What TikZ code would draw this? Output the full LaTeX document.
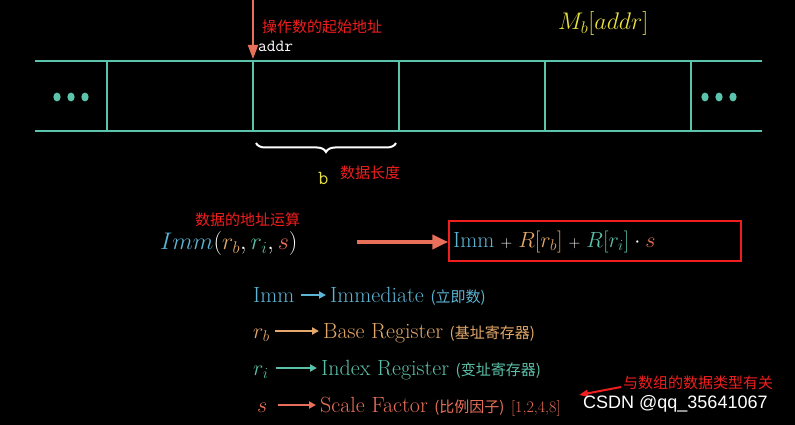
\RequirePackage{fix-cm}
\documentclass[tikz,border=0pt]{standalone}
\usepackage{fontspec}
\usepackage{amsmath}
\newfontfamily\cjk{Noto Sans CJK SC}
\newfontfamily\wm{Liberation Sans}
\usetikzlibrary{decorations.pathreplacing,arrows.meta}
\definecolor{tape}{HTML}{5CC4AC}
\definecolor{cblue}{HTML}{5DB4D4}
\definecolor{corange}{HTML}{E3A86A}
\definecolor{cteal}{HTML}{5CC0A8}
\definecolor{coral}{HTML}{E8705A}
\definecolor{ared}{HTML}{F01E1E}
\definecolor{cyel}{HTML}{E8E040}
\begin{document}
\begin{tikzpicture}[x=1pt,y=-1pt,
  tapeline/.style={tape,line width=2.2pt},
  note/.style={ared,font=\cjk\fontsize{15}{15}\selectfont,inner sep=0pt},
  big/.style={font=\fontsize{24}{24}\selectfont,inner sep=0pt},
  leg/.style={font=\fontsize{22}{22}\selectfont,inner sep=0pt,anchor=base west},
  legarr/.style={-{Triangle[length=7pt,width=7pt]},line width=2pt}]
\fill[black] (0,0) rectangle (795,425);
\useasboundingbox (0,0) rectangle (795,425);
% tape
\draw[tapeline] (35,61) -- (762,61);
\draw[tapeline] (35,131) -- (762,131);
\foreach \x in {107,253,399,545,691} \draw[tapeline] (\x,61) -- (\x,131);
\foreach \x in {57,71,85,705,719,733} \fill[tape] (\x,97) ellipse (3.6 and 4.4);
\coordinate (top) at (253,0);
\coordinate (addrpt) at (253,59);
\draw[coral,line width=2pt,-{Triangle[length=14pt,width=10pt]}] (top) -- (addrpt);
\node[note,anchor=west] (n1) at (262,27) {操作数的起始地址};
\node[white,anchor=west,inner sep=0pt,font=\ttfamily\fontsize{17}{17}\selectfont] (addr) at (258,46) {addr};
\node[cyel,big,anchor=west] (mb) at (558,24) {$M_b[addr]$};
\draw[white,line width=2pt,decorate,decoration={brace,amplitude=9pt,mirror}] (256,143) -- (396,143);
\node[cyel,anchor=west,inner sep=0pt,font=\ttfamily\fontsize{20}{20}\selectfont] (b) at (318,178) {b};
\node[note,anchor=west] (n2) at (340,173) {数据长度};
% formula
\node[note,anchor=west] (n3) at (195,220) {数据的地址运算};
\node[big,anchor=west] (imm) at (160,244) {$\color{cblue}Imm\color{white}(\color{corange}r_b\color{white},\color{cteal}r_i\color{white},\color{coral}s\color{white})$};
\node[draw=ared,line width=1.5pt,minimum width=292pt,minimum height=40pt,inner sep=0pt] (box) at (595,241) {};
\node[anchor=west,inner sep=0pt,font=\fontsize{22}{22}\selectfont] (expr) at (453,242) {$\color{cblue}\mathrm{Imm}\;\color{white}{\scriptstyle+}\;\color{corange}R[r_b]\;\color{white}{\scriptstyle+}\;\color{cteal}R[r_i]\color{white}\cdot\color{coral}s$};
\coordinate (as) at (357,242);
\draw[coral,line width=4pt,-{Triangle[length=16pt,width=14pt]}] (as) -- (box.west |- as);
% legend
\node[leg,cblue] (l1a) at (253,302) {Imm};
\node[leg,cblue] (l1b) at (330,302) {Immediate {\cjk\fontsize{15}{15}\selectfont(立即数)}};
\draw[legarr,cblue] (l1a.east |- 0,295) ++(6,0) -- ([xshift=-4pt]l1b.west |- 0,295);
\node[leg,corange] (l2a) at (253,338) {$r_b$};
\node[leg,corange] (l2b) at (323,338) {Base Register {\cjk\fontsize{15}{15}\selectfont(基址寄存器)}};
\draw[legarr,corange] (l2a.east |- 0,331) ++(5,0) -- ([xshift=-4pt]l2b.west |- 0,331);
\node[leg,cteal] (l3a) at (253,375) {$r_i$};
\node[leg,cteal] (l3b) at (321,375) {Index Register {\cjk\fontsize{15}{15}\selectfont(变址寄存器)}};
\draw[legarr,cteal] (l3a.east |- 0,368) ++(7,0) -- ([xshift=-4pt]l3b.west |- 0,368);
\node[leg,coral] (l4a) at (257,412) {$s$};
\node[leg,coral] (l4b) at (320,412) {Scale Factor {\cjk\fontsize{15}{15}\selectfont(比例因子)} {\fontsize{16}{16}\selectfont[1,2,4,8]}};
\draw[legarr,coral] (l4a.east |- 0,405) ++(10,0) -- ([xshift=-4pt]l4b.west |- 0,405);
\node[note,anchor=west] (n4) at (623,383) {与数组的数据类型有关};
\draw[ared,line width=2pt,-{Triangle[length=9pt,width=7pt]}] (n4.west)++(-2,4) -- (579,395);
\node[white,anchor=west,inner sep=0pt,font=\wm\fontsize{18}{18}\selectfont] (wmk) at (583,404) {CSDN @qq\_35641067};
\end{tikzpicture}
\end{document}
